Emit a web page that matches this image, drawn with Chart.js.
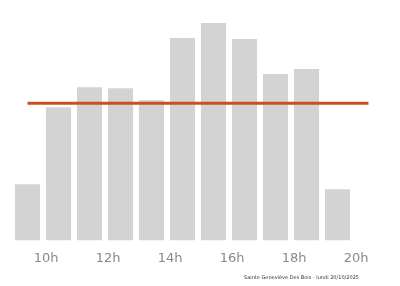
<!DOCTYPE html>
<html>
<head>
<meta charset="utf-8">
<script src="https://cdn.jsdelivr.net/npm/chart.js@4"></script>
<style>
html,body{margin:0;padding:0;background:#fff;}
#wrap{width:400px;height:286px;}
</style>
</head>
<body>
<div id="wrap"><canvas id="c" width="400" height="286"></canvas></div>
<script>
const hours = ['9h','10h','11h','12h','13h','14h','15h','16h','17h','18h','19h','20h'];
const affluence = [56, 133, 153, 152, 140, 202, 217, 201, 166, 171, 51, null];
const moyenne = [137, 137, 137, 137, 137, 137, 137, 137, 137, 137, 137, 137];
const tickHours = [10, 12, 14, 16, 18, 20];
const footer = 'Sainte Geneviève Des Bois - lundi 20/10/2025';

const footerPlugin = {
  id: 'footerText',
  afterDraw(chart) {
    const ctx = chart.ctx;
    ctx.save();
    ctx.font = '5px "DejaVu Sans"';
    ctx.fillStyle = '#333';
    ctx.textAlign = 'right';
    ctx.textBaseline = 'middle';
    ctx.fillText(footer, chart.chartArea.right - 25, chart.height - 8.5);
    ctx.restore();
  }
};

new Chart(document.getElementById('c'), {
  data: {
    labels: hours,
    datasets: [
      {
        type: 'line',
        data: moyenne,
        borderColor: '#cf4f1c',
        borderWidth: 3,
        pointRadius: 0,
        fill: false,
        order: 0
      },
      {
        type: 'bar',
        data: affluence,
        backgroundColor: '#d3d3d3',
        borderWidth: 0,
        categoryPercentage: 0.9,
        barPercentage: 0.9,
        order: 1
      }
    ]
  },
  plugins: [footerPlugin],
  options: {
    responsive: false,
    animation: false,
    layout: { padding: { left: 12, right: 16, top: 0, bottom: 10 } },
    plugins: {
      legend: { display: false },
      tooltip: { enabled: false }
    },
    scales: {
      x: { type: 'category', display: false },
      y: { display: false, min: 0, max: 240 },
      x2: {
        type: 'linear',
        position: 'bottom',
        min: 8.9,
        max: 20.9,
        afterBuildTicks: (axis) => { axis.ticks = tickHours.map(v => ({ value: v })); },
        grid: { display: false, drawTicks: false },
        border: { display: false },
        ticks: {
          color: '#8a8a8a',
          font: { family: 'DejaVu Sans', size: 13 },
          padding: 10,
          maxRotation: 0,
          callback: (v) => v + 'h'
        }
      }
    }
  }
});
</script>
</body>
</html>
